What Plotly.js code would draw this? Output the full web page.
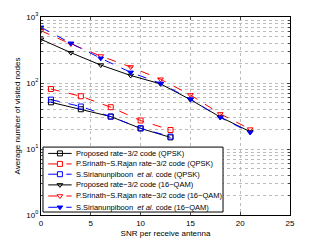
<!DOCTYPE html>
<html>
<head>
<meta charset="utf-8">
<script src="https://cdn.plot.ly/plotly-3.0.1.min.js"></script>
<style>html,body{margin:0;padding:0;background:#fff;}#chart{width:321px;height:242px;}</style>
</head>
<body>
<div id="chart"></div>
<script>
// Data
const snrQPSK = [1, 4, 7, 10, 13];
const propQPSK = [51, 40, 31, 20.5, 15];
const srinQPSK = [81, 63, 43, 27, 19.4];
const siriQPSK = [56, 44, 31, 20.6, 15.4];

const snrQAM = [0, 3, 6, 9, 12, 15, 18, 21];
const propQAM = [459, 288, 187, 130, 97, 56, 30.5, 18.3];
const srinQAM = [619, 390, 256, 175, 114, 66, 34, 20];
const siriQAM = [698, 400, 237, 145, 99, 57, 30, 17.8];

const names = [
  "Proposed rate\u22123/2 code (QPSK)",
  "P.Srinath\u2212S.Rajan rate\u22123/2 code (QPSK)",
  "S.Sirianunpiboon  <i>et al.</i> code (QPSK)",
  "Proposed rate\u22123/2 code (16\u2212QAM)",
  "P.Srinath\u2212S.Rajan rate\u22123/2 code (16\u2212QAM)",
  "S.Sirianunpiboon  <i>et al.</i> code (16\u2212QAM)"
];
const yTickVals = [1, 10, 100, 1000];
const yTickText = ["10<sup>0</sup>", "10<sup>1</sup>", "10<sup>2</sup>", "10<sup>3</sup>"];
const xTickVals = [0, 5, 10, 15, 20, 25];

const minorVals = [];
for (let k = 0; k < 3; k++) for (let d = 2; d <= 9; d++) minorVals.push(d * Math.pow(10, k));

const styles = [
  {color: '#000000', dash: 'solid', symbol: 'square-open'},
  {color: '#ff0000', dash: 'dash', symbol: 'square-open'},
  {color: '#0000ff', dash: 'dash', symbol: 'square-open'},
  {color: '#000000', dash: 'solid', symbol: 'triangle-down-open'},
  {color: '#ff0000', dash: 'dash', symbol: 'triangle-down-open'},
  {color: '#0000ff', dash: 'dash', symbol: 'triangle-down'}
];
const series = [
  [snrQPSK, propQPSK], [snrQPSK, srinQPSK], [snrQPSK, siriQPSK],
  [snrQAM, propQAM], [snrQAM, srinQAM], [snrQAM, siriQAM]
];

const data = [];
series.forEach((s, i) => {
  const st = styles[i];
  data.push({x: s[0], y: s[1], name: names[i], type: 'scatter', mode: 'lines+markers',
    line: {color: st.color, width: 1, dash: st.dash},
    marker: {symbol: st.symbol, size: 5, color: st.color, line: {color: st.color, width: 1}}});
});

// Compact legend drawn on an overlay axis spanning the plot area (0..1)
const legX0 = 0.008, legX1 = 0.731, legY0 = 0.015, legY1 = 0.343;
const rowY = [0.311, 0.258, 0.206, 0.152, 0.096, 0.039];
const lineX = [0.029, 0.123], markX = 0.076, textX = 0.133;
const annotations = [];
const font = {family: 'Liberation Sans, Arial, sans-serif', size: 8, color: '#000'};
data.push({x: [legX0, legX1, legX1, legX0, legX0], y: [legY0, legY0, legY1, legY1, legY0],
  xaxis: 'x2', yaxis: 'y2', mode: 'lines', fill: 'toself', fillcolor: '#ffffff',
  line: {color: '#000', width: 1}, showlegend: false, hoverinfo: 'skip'});
names.forEach((n, i) => {
  const st = styles[i];
  data.push({x: lineX, y: [rowY[i], rowY[i]], xaxis: 'x2', yaxis: 'y2', mode: 'lines',
    showlegend: false, hoverinfo: 'skip', line: {color: st.color, width: 1, dash: st.dash}});
  data.push({x: [markX], y: [rowY[i]], xaxis: 'x2', yaxis: 'y2', mode: 'markers',
    showlegend: false, hoverinfo: 'skip',
    marker: {symbol: st.symbol, size: 5, color: st.color, line: {color: st.color, width: 1}}});
  annotations.push({xref: 'x2', yref: 'y2', x: textX, y: rowY[i], text: n, showarrow: false,
    xanchor: 'left', yanchor: 'middle', font: {family: font.family, size: 7.5, color: '#000'}});
});

const layout = {
  width: 321, height: 242,
  margin: {l: 41, r: 31, t: 17, b: 27, pad: 0},
  paper_bgcolor: '#fff', plot_bgcolor: '#fff',
  font: font,
  showlegend: false,
  xaxis: {range: [0, 25], tickvals: xTickVals, ticks: 'inside', ticklen: 3,
    showline: true, mirror: 'ticks', linecolor: '#000', linewidth: 1,
    showgrid: true, gridcolor: '#bbb', griddash: 'dot', gridwidth: 1, zeroline: false,
    tickfont: {family: font.family, size: 8},
    title: {text: 'SNR per receive antenna', font: {family: font.family, size: 8}, standoff: 3}},
  yaxis: {type: 'log', range: [0, 3], tickvals: yTickVals, ticktext: yTickText,
    ticks: 'inside', ticklen: 3,
    showline: true, mirror: 'ticks', linecolor: '#000', linewidth: 1,
    showgrid: true, gridcolor: '#bbb', griddash: 'dot', gridwidth: 1, zeroline: false,
    tickfont: {family: font.family, size: 8},
    minor: {tickvals: minorVals, ticks: 'inside', ticklen: 2, showgrid: true,
      gridcolor: '#bbb', griddash: 'dot', gridwidth: 1},
    title: {text: 'Average number of visited nodes', font: {family: font.family, size: 8}, standoff: 4}},
  xaxis2: {overlaying: 'x', range: [0, 1], visible: false, fixedrange: true},
  yaxis2: {overlaying: 'y', range: [0, 1], visible: false, fixedrange: true},
  annotations: annotations
};
Plotly.newPlot('chart', data, layout, {displayModeBar: false, staticPlot: true});
</script>
</body>
</html>
